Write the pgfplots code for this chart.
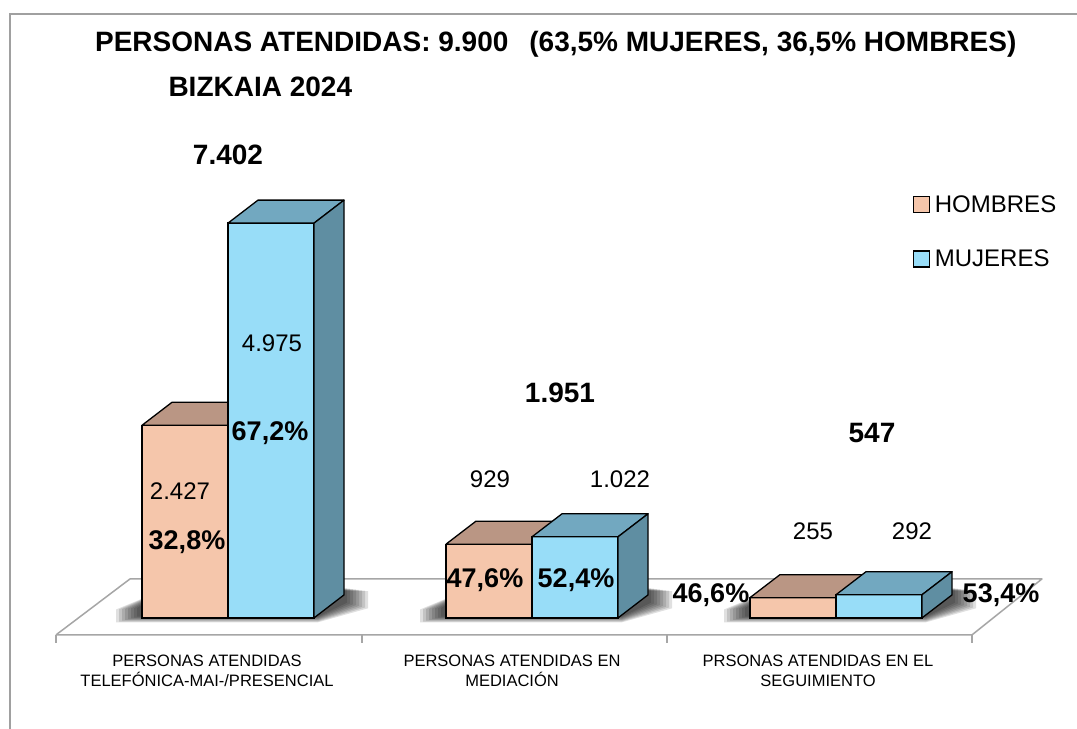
\documentclass[border=0pt]{standalone}
\usepackage{fontspec}
\setmainfont{Liberation Sans}
\usepackage{pgfplots}
\pgfplotsset{compat=1.18}
\definecolor{hfront}{HTML}{F5C6AB}
\definecolor{htop}{HTML}{BA9684}
\definecolor{mfront}{HTML}{98DDF8}
\definecolor{mtop}{HTML}{72A8C0}
\definecolor{mside}{HTML}{5F8EA2}
\definecolor{floorline}{HTML}{A6A6A6}
\definecolor{frameline}{HTML}{A0A0A0}

% shadow layer: #1 = group index, #2 = layer
\newcommand\shl[2]{%
  \fill[black, opacity=0.12, shift={(axis cs:#1,0)}]
    ({(-88-3*#2)*1pt},{(2-0.8*#2)*1pt}) -- ({90*1pt},{(2-0.8*#2)*1pt}) --
    ({(116+3*#2)*1pt},{(16-0.8*#2)*1pt}) -- ({(116+3*#2)*1pt},{(30-0.4*#2)*1pt}) --
    ({-60pt},{30pt}) -- ({(-88-3*#2)*1pt},{(10-0.2*#2)*1pt}) -- cycle;}
\newcommand\shadowgroup[1]{\shl{#1}{1}\shl{#1}{2}\shl{#1}{3}\shl{#1}{4}\shl{#1}{5}\shl{#1}{6}\shl{#1}{7}\shl{#1}{8}}

\begin{document}
\begin{tikzpicture}
\begin{axis}[
  scale only axis, width=1077pt, height=729pt,
  xmin=-0.75, xmax=2.7928, ymin=-1400, ymax=7787,
  axis lines=none, clip=false,
  legend style={at={(rel axis cs:0.84773,0.73800)}, anchor=north west,
    draw=none, fill=none, inner sep=0pt, row sep=27pt,
    font=\fontsize{24}{24}\selectfont, cells={anchor=west},
    nodes={inner sep=4.5pt}},
]
% frame
\draw[frameline, line width=1.5pt] (rel axis cs:0.00929,0) -- (rel axis cs:0.00929,0.98080) -- (rel axis cs:1,0.98080);

% floor
\addplot[fill=white, draw=floorline, line width=1.5pt, line join=round, forget plot]
  coordinates {(-0.5658,-214) (2.4474,-214) (2.6776,491) (-0.3224,491) (-0.5658,-214)};
\draw[floorline, line width=1.2pt] (axis cs:-0.5658,-214) -- (axis cs:-0.5658,-315);
\draw[floorline, line width=1.2pt] (axis cs:0.4408,-214) -- (axis cs:0.4408,-315);
\draw[floorline, line width=1.2pt] (axis cs:1.4441,-214) -- (axis cs:1.4441,-315);
\draw[floorline, line width=1.2pt] (axis cs:2.4474,-214) -- (axis cs:2.4474,-315);

% shadows
\shadowgroup{0}
\shadowgroup{1}
\shadowgroup{2}

% HOMBRES front faces
\addplot[ybar, bar width=0.283, bar shift=-0.1415, fill=hfront, draw=black, line width=1.3pt, forget plot]
  coordinates {(0,2427) (1,929) (2,255)};
% HOMBRES top faces
\addplot[fill=htop, draw=black, line width=1.3pt, line join=round, forget plot]
  coordinates {(-0.283,2427) (0,2427) (0.0987,2717) (-0.1843,2717) (-0.283,2427)};
\addplot[fill=htop, draw=black, line width=1.3pt, line join=round, forget plot]
  coordinates {(0.717,929) (1,929) (1.0987,1219) (0.8157,1219) (0.717,929)};
\addplot[fill=htop, draw=black, line width=1.3pt, line join=round, forget plot]
  coordinates {(1.717,255) (2,255) (2.0987,545) (1.8157,545) (1.717,255)};

% MUJERES front faces
\addplot[ybar, bar width=0.283, bar shift=0.1415, fill=mfront, draw=black, line width=1.3pt, forget plot]
  coordinates {(0,4975) (1,1022) (2,292)};
% MUJERES top faces
\addplot[fill=mtop, draw=black, line width=1.3pt, line join=round, forget plot]
  coordinates {(0,4975) (0.283,4975) (0.3817,5265) (0.0987,5265) (0,4975)};
\addplot[fill=mtop, draw=black, line width=1.3pt, line join=round, forget plot]
  coordinates {(1,1022) (1.283,1022) (1.3817,1312) (1.0987,1312) (1,1022)};
\addplot[fill=mtop, draw=black, line width=1.3pt, line join=round, forget plot]
  coordinates {(2,292) (2.283,292) (2.3817,582) (2.0987,582) (2,292)};
% MUJERES side faces
\addplot[fill=mside, draw=black, line width=1.3pt, line join=round, forget plot]
  coordinates {(0.283,0) (0.3817,290) (0.3817,5265) (0.283,4975) (0.283,0)};
\addplot[fill=mside, draw=black, line width=1.3pt, line join=round, forget plot]
  coordinates {(1.283,0) (1.3817,290) (1.3817,1312) (1.283,1022) (1.283,0)};
\addplot[fill=mside, draw=black, line width=1.3pt, line join=round, forget plot]
  coordinates {(2.283,0) (2.3817,290) (2.3817,582) (2.283,292) (2.283,0)};

% legend
\addlegendimage{legend image code/.code={\draw[fill=hfront,draw=black,line width=1.2pt] (0pt,-8pt) rectangle (16pt,8pt);}}
\addlegendentry{HOMBRES}
\addlegendimage{legend image code/.code={\draw[fill=mfront,draw=black,line width=1.2pt] (0pt,-8pt) rectangle (16pt,8pt);}}
\addlegendentry{MUJERES}

% title
\node[anchor=base west, font=\fontsize{28}{28}\selectfont\bfseries] at (rel axis cs:0.08500,0.92867)
  {PERSONAS ATENDIDAS: 9.900\hspace{0.75em}(63,5\% MUJERES, 36,5\% HOMBRES)};
\node[anchor=base west, font=\fontsize{28}{28}\selectfont\bfseries] at (rel axis cs:0.15320,0.86694)
  {BIZKAIA 2024};

% totals
\node[anchor=base, font=\fontsize{28}{28}\selectfont\bfseries] at (rel axis cs:0.21170,0.77366) {7.402};
\node[anchor=base, font=\fontsize{28}{28}\selectfont\bfseries] at (rel axis cs:0.51996,0.44719) {1.951};
\node[anchor=base, font=\fontsize{28}{28}\selectfont\bfseries] at (rel axis cs:0.80966,0.39232) {547};

% percentages
\node[anchor=base, font=\fontsize{27}{27}\selectfont\bfseries] at (rel axis cs:0.25070,0.39506) {67,2\%};
\node[anchor=base, font=\fontsize{27}{27}\selectfont\bfseries] at (rel axis cs:0.17363,0.24554) {32,8\%};
\node[anchor=base, font=\fontsize{27}{27}\selectfont\bfseries] at (rel axis cs:0.45032,0.19342) {47,6\%};
\node[anchor=base, font=\fontsize{27}{27}\selectfont\bfseries] at (rel axis cs:0.53482,0.19342) {52,4\%};
\node[anchor=base, font=\fontsize{27}{27}\selectfont\bfseries] at (rel axis cs:0.66016,0.17284) {46,6\%};
\node[anchor=base, font=\fontsize{27}{27}\selectfont\bfseries] at (rel axis cs:0.92944,0.17284) {53,4\%};

% values
\node[anchor=base, font=\fontsize{24}{24}\selectfont] at (rel axis cs:0.16713,0.31413) {2.427};
\node[anchor=base, font=\fontsize{24}{24}\selectfont] at (rel axis cs:0.25255,0.51715) {4.975};
\node[anchor=base, font=\fontsize{24}{24}\selectfont] at (rel axis cs:0.45497,0.33059) {929};
\node[anchor=base, font=\fontsize{24}{24}\selectfont] at (rel axis cs:0.57567,0.33059) {1.022};
\node[anchor=base, font=\fontsize{24}{24}\selectfont] at (rel axis cs:0.75487,0.25926) {255};
\node[anchor=base, font=\fontsize{24}{24}\selectfont] at (rel axis cs:0.84680,0.25926) {292};

% category labels
\node[anchor=base, font=\fontsize{16.5}{16.5}\selectfont] at (rel axis cs:0.19220,0.08505) {PERSONAS ATENDIDAS};
\node[anchor=base, font=\fontsize{16.5}{16.5}\selectfont] at (rel axis cs:0.19220,0.05761) {TELEFÓNICA-MAI-/PRESENCIAL};
\node[anchor=base, font=\fontsize{16.5}{16.5}\selectfont] at (rel axis cs:0.47540,0.08505) {PERSONAS ATENDIDAS EN};
\node[anchor=base, font=\fontsize{16.5}{16.5}\selectfont] at (rel axis cs:0.47540,0.05761) {MEDIACIÓN};
\node[anchor=base, font=\fontsize{16.5}{16.5}\selectfont] at (rel axis cs:0.75952,0.08505) {PRSONAS ATENDIDAS EN EL};
\node[anchor=base, font=\fontsize{16.5}{16.5}\selectfont] at (rel axis cs:0.75952,0.05761) {SEGUIMIENTO};
\end{axis}
\pgfresetboundingbox
\useasboundingbox (current axis.south west) rectangle (current axis.north east);
\end{tikzpicture}
\end{document}
